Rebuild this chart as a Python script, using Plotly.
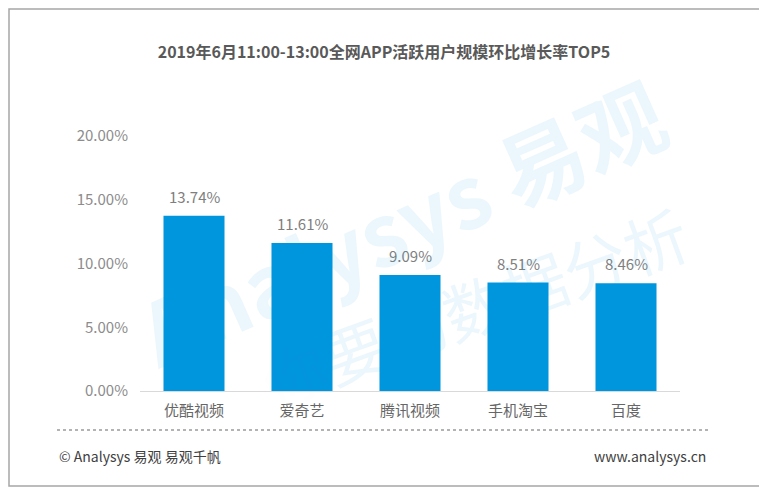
import plotly.graph_objects as go

# data
apps = ["优酷视频", "爱奇艺", "腾讯视频", "手机淘宝", "百度"]
growth = [0.1374, 0.1161, 0.0909, 0.0851, 0.0846]
y_ticks = [0, 0.05, 0.10, 0.15, 0.20]

title = "2019年6月11:00-13:00全网APP活跃用户规模环比增长率TOP5"
FONT = "Noto Sans CJK SC, Microsoft YaHei, sans-serif"
BAR_COLOR = "#0096DE"

# the page body has an 8px margin, so work in screen pixels minus 8
OFF = 8
W, H = 767 - OFF, 491 - OFF
PL, PR = 140 - OFF, 680 - OFF   # plot area left / right
PT, PB = 136 - OFF, 391 - OFF   # plot area top / bottom
PW, PH = PR - PL, PB - PT


def px(sx):
    return (sx - OFF - PL) / PW


def py(sy):
    return (PB - (sy - OFF)) / PH


fig = go.Figure()
fig.add_trace(
    go.Bar(
        x=apps,
        y=growth,
        width=0.565,
        marker=dict(color=BAR_COLOR, line=dict(width=0)),
        hoverinfo="skip",
    )
)

# value labels above the bars
for app, v in zip(apps, growth):
    fig.add_annotation(
        x=app,
        y=v,
        text=f"{v:.2%}",
        showarrow=False,
        yanchor="bottom",
        yshift=7,
        font=dict(family=FONT, size=15, color="#7f7f7f"),
    )

fig.update_layout(
    width=W,
    height=H,
    paper_bgcolor="white",
    plot_bgcolor="rgba(0,0,0,0)",
    margin=dict(l=PL, r=W - PR, t=PT, b=H - PB, pad=0),
    showlegend=False,
    font=dict(family=FONT),
    title=dict(
        text=f"<b>{title}</b>",
        x=(384 - OFF) / W,
        xanchor="center",
        y=1 - (52 - OFF) / H,
        yanchor="middle",
        font=dict(family=FONT, size=16, color="#595959"),
    ),
)

fig.update_yaxes(
    range=[0, 0.2],
    tickvals=y_ticks,
    tickformat=".2%",
    showgrid=False,
    zeroline=False,
    showline=False,
    ticks="",
    ticklabelstandoff=11,
    tickfont=dict(family=FONT, size=15, color="#8c8c8c"),
)
fig.update_xaxes(
    showgrid=False,
    showline=True,
    linecolor="#d9d9d9",
    linewidth=1,
    ticks="",
    ticklabelstandoff=6,
    tickfont=dict(family=FONT, size=15, color="#666666"),
)

# watermark, faint enough to vanish over the bars
fig.add_annotation(
    text="<b>Analysys 易观</b>",
    xref="paper", yref="paper",
    x=px(400), y=py(220),
    xanchor="center", yanchor="middle",
    showarrow=False,
    textangle=-24,
    font=dict(family=FONT, size=86, color="rgba(0,150,222,0.08)"),
)
fig.add_annotation(
    text=(
        "<span style='color:rgba(247,150,70,0.10)'>你</span>"
        "要的数据分析"
    ),
    xref="paper", yref="paper",
    x=px(474), y=py(305),
    xanchor="center", yanchor="middle",
    showarrow=False,
    textangle=-20,
    font=dict(family=FONT, size=64, color="rgba(0,150,222,0.08)"),
)

# footer
fig.add_shape(
    type="line",
    xref="paper", yref="paper",
    x0=px(57), x1=px(709),
    y0=py(430), y1=py(430),
    line=dict(color="#9a9a9a", width=1.5, dash="dot"),
)
fig.add_annotation(
    text="© Analysys 易观 易观千帆",
    xref="paper", yref="paper",
    x=px(57), y=py(456),
    xanchor="left", yanchor="middle",
    showarrow=False,
    font=dict(family=FONT, size=14, color="#404040"),
)
fig.add_annotation(
    text="www.analysys.cn",
    xref="paper", yref="paper",
    x=px(708), y=py(456),
    xanchor="right", yanchor="middle",
    showarrow=False,
    font=dict(family=FONT, size=14, color="#404040"),
)

# outer frame around the whole picture (kept inside the page's drawable area)
fig.add_shape(
    type="rect",
    xref="paper", yref="paper",
    x0=px(OFF + 1), x1=px(762),
    y0=py(486), y1=py(OFF + 1),
    line=dict(color="#a6a6a6", width=1.5),
    fillcolor="rgba(0,0,0,0)",
)

fig.write_html("out.html")
